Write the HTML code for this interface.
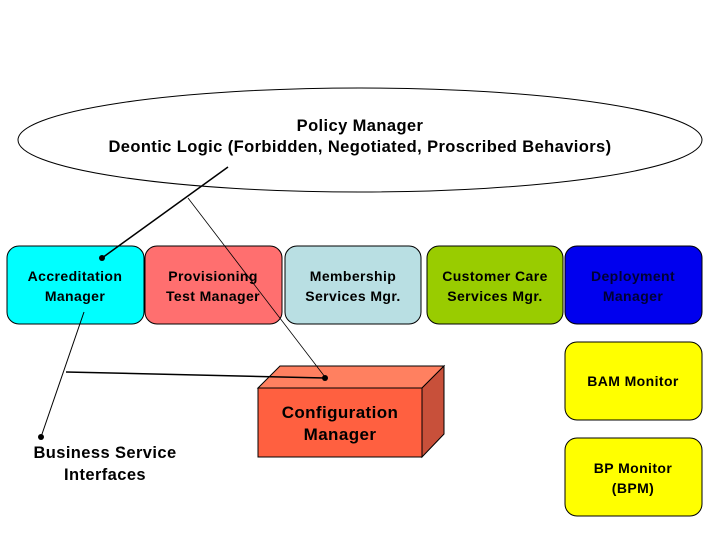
<!DOCTYPE html>
<html><head><style>
body{margin:0;background:#fff;}
svg text{font-family:"Liberation Sans",Arial,sans-serif;font-weight:bold;}
</style></head><body>
<svg width="720" height="540" viewBox="0 0 720 540" xmlns="http://www.w3.org/2000/svg">
<rect width="720" height="540" fill="#fff"/>
<ellipse cx="360" cy="140" rx="342" ry="52" fill="#fff" stroke="#000" stroke-width="1"/>
<text x="360" y="131" font-size="16.5" text-anchor="middle" letter-spacing="0.4">Policy Manager</text>
<text x="360" y="152" font-size="16.5" text-anchor="middle" letter-spacing="0.4">Deontic Logic (Forbidden, Negotiated, Proscribed Behaviors)</text>
<g stroke="#000" stroke-width="1">
<rect x="7" y="246" width="137" height="78" rx="12" fill="#00ffff"/>
<rect x="145" y="246" width="137" height="78" rx="12" fill="#ff6f6f"/>
<rect x="285" y="246" width="136" height="78" rx="12" fill="#b9dfe3"/>
<rect x="427" y="246" width="136" height="78" rx="12" fill="#99cc00"/>
<rect x="565" y="246" width="137" height="78" rx="12" fill="#0000ee"/>
<rect x="565" y="342" width="137" height="78" rx="12" fill="#ffff00"/>
<rect x="565" y="438" width="137" height="78" rx="12" fill="#ffff00"/>
</g>
<g font-size="14" text-anchor="middle" fill="#000" letter-spacing="0.4">
<text x="75" y="281">Accreditation</text><text x="75" y="301">Manager</text>
<text x="213" y="281">Provisioning</text><text x="213" y="301">Test Manager</text>
<text x="353" y="281">Membership</text><text x="353" y="301">Services Mgr.</text>
<text x="495" y="281">Customer Care</text><text x="495" y="301">Services Mgr.</text>
<text x="633" y="281" fill="#000033">Deployment</text><text x="633" y="301" fill="#000033">Manager</text>
<text x="633" y="386">BAM Monitor</text>
<text x="633" y="473">BP Monitor</text><text x="633" y="493">(BPM)</text>
</g>
<polygon points="258,388 280,366 444,366 422,388" fill="#ff8060" stroke="#000"/>
<polygon points="422,388 444,366 444,434 422,457" fill="#c8503a" stroke="#000"/>
<rect x="258" y="388" width="164" height="69" fill="#ff6040" stroke="#000"/>
<text x="340" y="418" font-size="17" text-anchor="middle" letter-spacing="0.4">Configuration</text>
<text x="340" y="440" font-size="17" text-anchor="middle" letter-spacing="0.4">Manager</text>
<text x="105" y="458" font-size="16.5" text-anchor="middle" letter-spacing="0.4">Business Service</text>
<text x="105" y="480" font-size="16.5" text-anchor="middle" letter-spacing="0.4">Interfaces</text>
<g stroke="#000">
<line x1="228" y1="167" x2="102" y2="258" stroke-width="1.5"/>
<line x1="188" y1="198" x2="325" y2="377" stroke-width="0.8"/>
<line x1="66" y1="372" x2="325" y2="378" stroke-width="1.5"/>
<line x1="84" y1="312" x2="41" y2="437" stroke-width="1"/>
</g>
<g fill="#000">
<circle cx="102" cy="258" r="3"/>
<circle cx="325" cy="378" r="3"/>
<circle cx="41" cy="437" r="3"/>
</g>
</svg>
</body></html>
